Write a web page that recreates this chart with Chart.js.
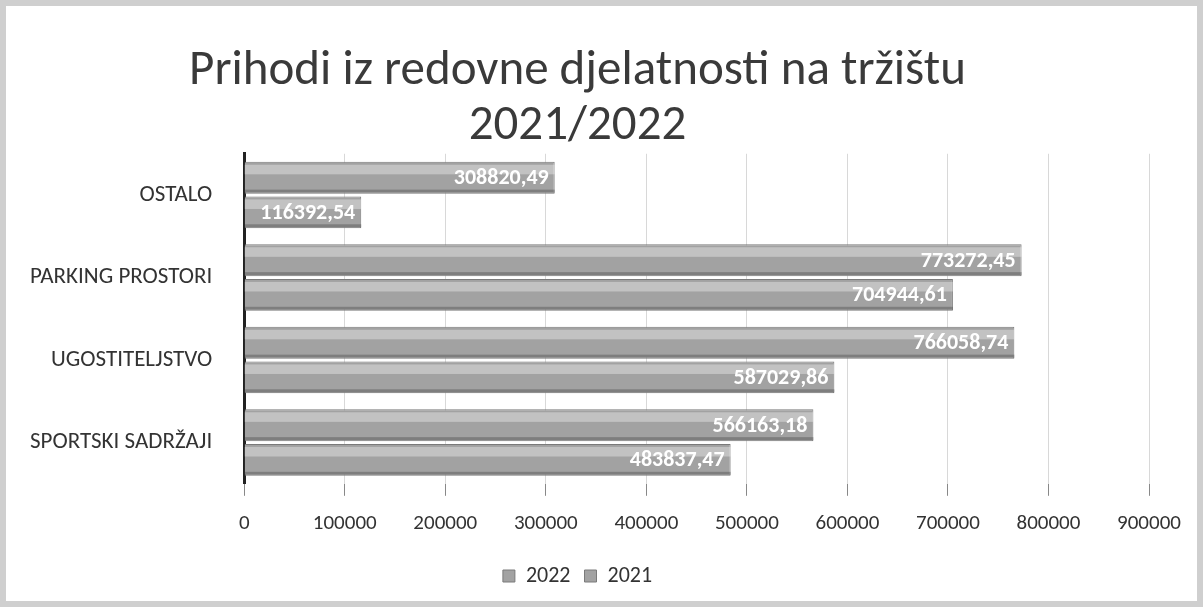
<!DOCTYPE html>
<html>
<head>
<meta charset="utf-8">
<script src="https://cdn.jsdelivr.net/npm/chart.js@4.4.1/dist/chart.umd.min.js"></script>
<style>
  html, body { margin: 0; padding: 0; background: #fff; }
  #wrap {
    position: absolute; left: 0; top: 0; width: 1203px; height: 607px;
    box-sizing: border-box; border: 6px solid #cfcfcf; background: #fff;
  }
  canvas { display: block; }
</style>
</head>
<body>
<div id="wrap"><canvas id="myChart" width="1191" height="595"></canvas></div>
<script>
// categories, top to bottom
const categories = ["OSTALO", "PARKING PROSTORI", "UGOSTITELJSTVO", "SPORTSKI SADRŽAJI"];
const values2022 = [308820.49, 773272.45, 766058.74, 566163.18];
const values2021 = [116392.54, 704944.61, 587029.86, 483837.47];
const seriesNames = ["2022", "2021"];
const titleLines = ["Prihodi iz redovne djelatnosti na tržištu", "2021/2022"];

const fontFamily = "Carlito, 'Open Sans', 'Liberation Sans', sans-serif";

// write value at the inner end of each bar + a small shine on top
const barLabels = {
  id: "barLabels",
  afterDatasetsDraw(chart) {
    const ctx = chart.ctx;
    chart.data.datasets.forEach((ds, i) => {
      const meta = chart.getDatasetMeta(i);
      meta.data.forEach((bar, j) => {
        const h = bar.height;
        const top = bar.y - h / 2;
        const left = bar.base;
        const w = bar.x - bar.base;
        ctx.save();
        // highlight band
        ctx.fillStyle = "rgba(255,255,255,0.35)";
        ctx.fillRect(left, top + 3, w, h * 0.3);
        ctx.fillStyle = "rgba(60,60,60,0.35)";
        ctx.fillRect(left, top + h - 4, w, 3);
        // label
        const txt = ds.data[j].toFixed(2).replace(".", ",");
        ctx.font = "bold 22px " + fontFamily;
        ctx.fillStyle = "#ffffff";
        ctx.textAlign = "right";
        ctx.textBaseline = "middle";
        ctx.fillText(txt, bar.x - 6, bar.y + 1);
        ctx.restore();
      });
    });
  }
};

const canvas = document.getElementById("myChart");
const chartCtx = canvas.getContext("2d");

const myChart = new Chart(chartCtx, {
  type: "bar",
  data: {
    labels: categories,
    datasets: [
      {
        label: seriesNames[0],
        data: values2022,
        backgroundColor: "#a2a2a2",
        borderColor: "#7a7a7a",
        borderWidth: 1,
        categoryPercentage: 0.84,
        barPercentage: 0.92,
      },
      {
        label: seriesNames[1],
        data: values2021,
        backgroundColor: "#a2a2a2",
        borderColor: "#7a7a7a",
        borderWidth: 1,
        categoryPercentage: 0.84,
        barPercentage: 0.92,
      },
    ],
  },
  options: {
    indexAxis: "y",
    responsive: false,
    animation: false,
    layout: { padding: { left: 0, right: 48, top: 6, bottom: 4 } },
    plugins: {
      title: {
        display: true,
        text: titleLines,
        color: "#3a3a3a",
        font: { family: fontFamily, size: 49, weight: "normal", lineHeight: 1.12 },
        padding: { top: 32, bottom: 0 },
      },
      legend: {
        position: "bottom",
        labels: {
          color: "#333",
          font: { family: fontFamily, size: 22 },
          boxWidth: 12,
          boxHeight: 12,
          padding: 14,
        },
      },
      tooltip: { enabled: false },
    },
    scales: {
      x: {
        min: 0,
        max: 900000,
        ticks: {
          stepSize: 100000,
          color: "#333",
          font: { family: fontFamily, size: 21 },
          padding: 15,
          callback: (v) => String(v),
        },
        grid: { color: "#d8d8d8", tickLength: 12, tickColor: "#888" },
        border: { display: false },
      },
      y: {
        ticks: {
          color: "#333",
          font: { family: fontFamily, size: 23 },
          padding: 24,
        },
        grid: { display: false },
        border: { display: true, color: "#222", width: 3 },
      },
    },
  },
  plugins: [barLabels],
});
</script>
</body>
</html>
